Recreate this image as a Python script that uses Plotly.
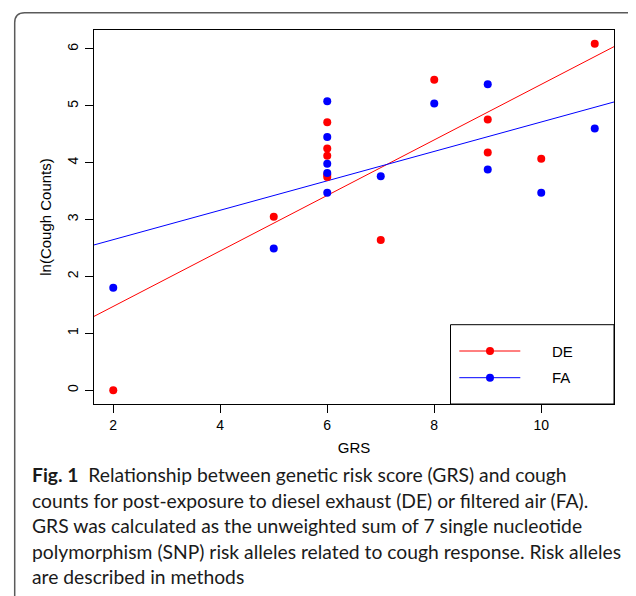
import numpy as np
import plotly.graph_objects as go

# ---------------- data ----------------
grs_de = [2, 5, 6, 6, 6, 6, 6, 7, 8, 9, 9, 10, 11]
ln_cough_de = [0.00, 3.05, 4.71, 4.25, 4.12, 3.79, 3.75, 2.64, 5.46, 4.76, 4.18, 4.07, 6.09]
grs_fa = [2, 5, 6, 6, 6, 6, 6, 7, 8, 9, 9, 10, 11]
ln_cough_fa = [1.80, 2.49, 5.08, 4.45, 3.98, 3.82, 3.47, 3.76, 5.04, 5.38, 3.88, 3.47, 4.60]
series_names = ["DE", "FA"]
series_colors = ["#FF0000", "#0000FF"]
x_ticks = [2, 4, 6, 8, 10]
y_ticks = [0, 1, 2, 3, 4, 5, 6]
x_title = "GRS"
y_title = "ln(Cough Counts)"
caption_lines = [
    "<b>Fig. 1</b>\u00a0\u00a0Relationship between genetic risk score (GRS) and cough",
    "counts for post-exposure to diesel exhaust (DE) or filtered air (FA).",
    "GRS was calculated as the unweighted sum of 7 single nucleotide",
    "polymorphism (SNP) risk alleles related to cough response. Risk alleles",
    "are described in methods",
]

# ---------------- geometry ----------------
# The page body has an 8px margin, so the figure is drawn 8px smaller and
# all reference-pixel positions below are expressed in window coordinates.
OFF = 8
W, H = 636 - OFF, 596 - OFF
PLOT_L, PLOT_R, PLOT_T, PLOT_B = 94, 614, 30, 404   # window pixels
ML, MT = PLOT_L - OFF, PLOT_T - OFF
MR, MB = 636 - PLOT_R, 596 - PLOT_B
PW, PH = PLOT_R - PLOT_L, PLOT_B - PLOT_T


def px_x(p):
    return (p - PLOT_L) / PW


def px_y(p):
    return (PLOT_B - p) / PH


# R-style axis ranges (data range extended by 4%)
all_x = np.array(grs_de + grs_fa, dtype=float)
all_y = np.array(ln_cough_de + ln_cough_fa, dtype=float)
xr = [all_x.min() - 0.04 * np.ptp(all_x), all_x.max() + 0.04 * np.ptp(all_x)]
yr = [all_y.min() - 0.04 * np.ptp(all_y), all_y.max() + 0.04 * np.ptp(all_y)]

fig = go.Figure()

series = [(grs_de, ln_cough_de), (grs_fa, ln_cough_fa)]
for (xs, ys), name, col in zip(series, series_names, series_colors):
    slope, icpt = np.polyfit(xs, ys, 1)
    fig.add_trace(go.Scatter(
        x=xr, y=[icpt + slope * xr[0], icpt + slope * xr[1]],
        mode="lines", line=dict(color=col, width=1), showlegend=False,
        hoverinfo="skip"))
for (xs, ys), name, col in zip(series, series_names, series_colors):
    fig.add_trace(go.Scatter(
        x=xs, y=ys, mode="markers", name=name,
        marker=dict(color=col, size=8, line=dict(width=0)),
        showlegend=False))

shapes = []
annotations = []

# page card border (rounded)
L, R, T, B, r = 14.7, 636.5, 12.7, 640, 10
path = (f"M {px_x(L)},{px_y(B)} L {px_x(L)},{px_y(T + r)} "
        f"Q {px_x(L)},{px_y(T)} {px_x(L + r)},{px_y(T)} "
        f"L {px_x(R - r)},{px_y(T)} Q {px_x(R)},{px_y(T)} {px_x(R)},{px_y(T + r)} "
        f"L {px_x(R)},{px_y(B)}")
shapes.append(dict(type="path", xref="paper", yref="paper", path=path,
                   line=dict(color="#5a5a5a", width=1.5), layer="below"))

# manual R-style legend box
shapes.append(dict(type="rect", xref="paper", yref="paper",
                   x0=px_x(450.5), x1=1, y0=0, y1=px_y(324.7),
                   line=dict(color="black", width=1), fillcolor="white",
                   layer="above"))
legend_rows = [351, 377.7]
for name, col, ly in zip(series_names, series_colors, legend_rows):
    shapes.append(dict(type="line", xref="paper", yref="paper",
                       x0=px_x(459.3), x1=px_x(520.3), y0=px_y(ly), y1=px_y(ly),
                       line=dict(color=col, width=1), layer="above"))
    shapes.append(dict(type="circle", xref="paper", yref="paper",
                       x0=px_x(490 - 4), x1=px_x(490 + 4),
                       y0=px_y(ly + 4), y1=px_y(ly - 4),
                       fillcolor=col, line=dict(width=0), layer="above"))
    annotations.append(dict(xref="paper", yref="paper", x=px_x(550), y=px_y(ly),
                            xanchor="left", yanchor="middle", showarrow=False,
                            text=name,
                            font=dict(family="Liberation Sans, Arial", size=15,
                                      color="black")))

# caption
cap_y = [474.5, 500, 525.5, 551, 576.5]
for txt, cy in zip(caption_lines, cap_y):
    annotations.append(dict(xref="paper", yref="paper", x=px_x(30), y=px_y(cy),
                            xanchor="left", yanchor="middle", showarrow=False,
                            text=txt, align="left",
                            font=dict(family="Lato, Open Sans", size=19.3,
                                      color="#1a1a1a")))

axis_font = dict(family="Liberation Sans, Arial", size=14, color="black")
title_font = dict(family="Liberation Sans, Arial", size=15, color="black")

fig.update_layout(
    width=W, height=H,
    margin=dict(l=ML, r=MR, t=MT, b=MB, pad=0),
    paper_bgcolor="white", plot_bgcolor="white",
    shapes=shapes, annotations=annotations,
    showlegend=False,
    xaxis=dict(range=xr, tickvals=x_ticks, ticks="outside", ticklen=8,
               tickcolor="black", tickwidth=1, showline=True, mirror=True,
               linecolor="black", linewidth=1, showgrid=False, zeroline=False,
               tickfont=axis_font,
               title=dict(text=x_title, font=title_font, standoff=10)),
    yaxis=dict(range=yr, tickvals=y_ticks, ticks="outside", ticklen=8,
               tickcolor="black", tickwidth=1, showline=True, mirror=True,
               linecolor="black", linewidth=1, showgrid=False, zeroline=False,
               tickangle=-90, tickfont=axis_font, ticklabelstandoff=1,
               title=dict(text=y_title, font=title_font, standoff=10)),
)

fig.write_html("out.html")
